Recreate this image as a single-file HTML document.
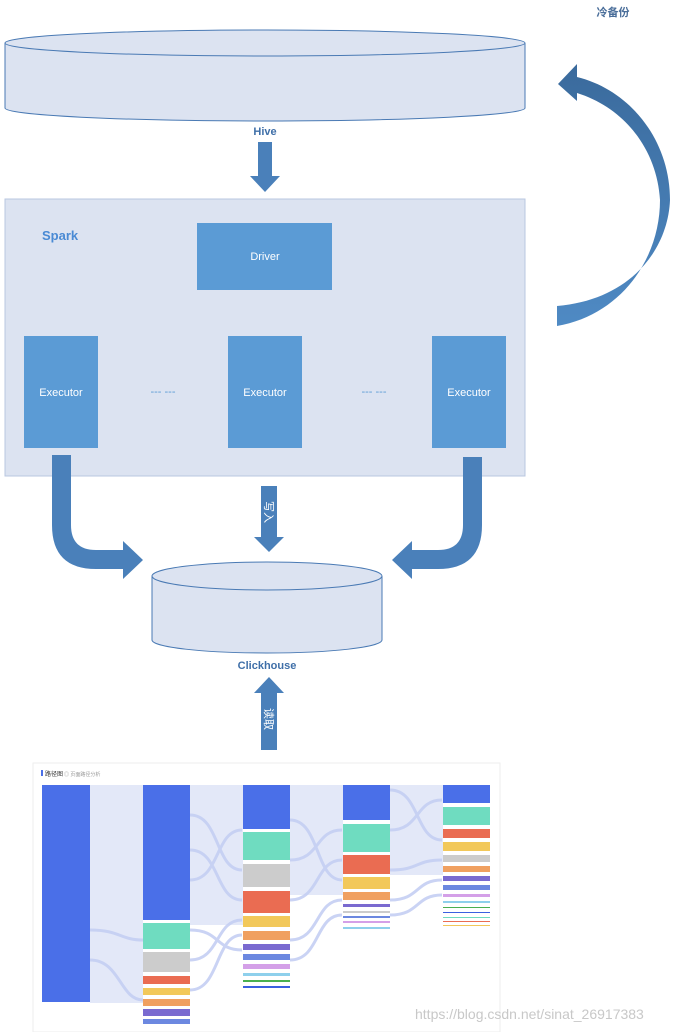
<!DOCTYPE html>
<html><head><meta charset="utf-8"><style>
html,body{margin:0;padding:0;background:#fff;width:681px;height:1032px;overflow:hidden}
svg{display:block}
text{font-family:"Liberation Sans","Noto Sans CJK SC",sans-serif}
</style></head><body>
<svg width="681" height="1032" viewBox="0 0 681 1032">
<defs>
<linearGradient id="ga" x1="0" y1="0" x2="0" y2="1"><stop offset="0" stop-color="#3a6a9c"/><stop offset="1" stop-color="#4f8ac4"/></linearGradient>
</defs>
<path d="M5,43 L5,108 A260,13 0 0 0 525,108 L525,43" fill="#dce3f1" stroke="#4a7ab4" stroke-width="1"/>
<ellipse cx="265" cy="43" rx="260" ry="13" fill="#dce3f1" stroke="#4a7ab4" stroke-width="1"/>
<text x="265" y="135" font-size="11" font-weight="bold" fill="#3f6fa8" text-anchor="middle">Hive</text>
<path d="M258,142 L272,142 L272,176 L280,176 L265,192 L250,176 L258,176 Z" fill="#4a80ba"/>
<rect x="5" y="199" width="520" height="277" fill="#dce3f1" stroke="#b9c7e0"/>
<text x="42" y="240" font-size="13" font-weight="bold" fill="#4a8ad4">Spark</text>
<rect x="197" y="223" width="135" height="67" fill="#5b9bd5"/>
<text x="265" y="260" font-size="11" fill="#fff" text-anchor="middle">Driver</text>
<rect x="24" y="336" width="74" height="112" fill="#5b9bd5"/>
<text x="61" y="396" font-size="11" fill="#fff" text-anchor="middle">Executor</text>
<rect x="228" y="336" width="74" height="112" fill="#5b9bd5"/>
<text x="265" y="396" font-size="11" fill="#fff" text-anchor="middle">Executor</text>
<rect x="432" y="336" width="74" height="112" fill="#5b9bd5"/>
<text x="469" y="396" font-size="11" fill="#fff" text-anchor="middle">Executor</text>
<text x="163" y="395" font-size="11" fill="#5b9bd5" text-anchor="middle">--- ---</text>
<text x="374" y="395" font-size="11" fill="#5b9bd5" text-anchor="middle">--- ---</text>
<path d="M52,455 L71,455 L71,525 Q71,550 96,550 L123,550 L123,541 L143,560 L123,579 L123,569 L96,569 Q52,569 52,525 Z" fill="#4a80ba"/>
<path d="M482,457 L463,457 L463,525 Q463,550 438,550 L412,550 L412,541 L392,560 L412,579 L412,569 L438,569 Q482,569 482,525 Z" fill="#4a80ba"/>
<path d="M261,486 L277,486 L277,537 L284,537 L269,552 L254,537 L261,537 Z" fill="#4a80ba"/>
<text x="0" y="0" font-size="11" fill="#fff" transform="translate(265,512) rotate(90)" text-anchor="middle">写入</text>
<path d="M152,576 L152,640 A115,13 0 0 0 382,640 L382,576" fill="#dce3f1" stroke="#4a7ab4"/>
<ellipse cx="267" cy="576" rx="115" ry="14" fill="#dce3f1" stroke="#4a7ab4"/>
<text x="267" y="669" font-size="11" font-weight="bold" fill="#3f6fa8" text-anchor="middle">Clickhouse</text>
<path d="M261,750 L277,750 L277,693 L284,693 L269,677 L254,693 L261,693 Z" fill="#4a80ba"/>
<text x="0" y="0" font-size="11" fill="#fff" transform="translate(265,719) rotate(90)" text-anchor="middle">读取</text>
<!-- cold backup arc -->
<path d="M557,306 C630,300 668,250 670,200 C670,140 630,90 577,77 L577,64 L558,84 L577,101 L577,93 C625,108 657,150 660,200 C660,260 620,315 557,326 Z" fill="url(#ga)"/>
<text x="613" y="16" font-size="11" fill="#4a6e9a" text-anchor="middle" font-weight="bold">冷备份</text>
<!-- sankey -->
<rect x="33" y="763" width="467" height="269" fill="#fff" stroke="#eee"/>
<rect x="41" y="770" width="2" height="6" fill="#4a6fe8"/>
<text x="45" y="776" font-size="6" fill="#333">路径图</text>
<text x="64" y="776" font-size="5" fill="#999">◎ 页面路径分析</text>
<g fill="#e3e8f8">
<rect x="90" y="785" width="53" height="218"/>
<rect x="190" y="785" width="53" height="140"/>
<rect x="290" y="785" width="53" height="110"/>
<rect x="390" y="785" width="53" height="90"/>
</g>
<g fill="none" stroke="#c5cff3" stroke-width="3" opacity="0.9">
<path d="M190,815 C220,815 215,870 242,870"/><path d="M190,850 C220,850 215,900 242,900"/>
<path d="M190,880 C220,880 215,830 242,830"/><path d="M190,930 C220,930 215,950 242,950"/>
<path d="M190,960 C220,960 215,920 242,920"/><path d="M190,990 C220,990 215,935 242,935"/>
<path d="M290,820 C320,820 315,880 342,880"/><path d="M290,860 C320,860 315,830 342,830"/>
<path d="M290,900 C320,900 315,860 342,860"/><path d="M290,940 C320,940 315,900 342,900"/>
<path d="M290,960 C320,960 315,915 342,915"/>
<path d="M390,790 C420,790 415,840 442,840"/><path d="M390,830 C420,830 415,800 442,800"/>
<path d="M390,870 C420,870 415,860 442,860"/><path d="M390,900 C420,900 415,880 442,880"/>
<path d="M390,915 C420,915 415,895 442,895"/>
<path d="M90,930 C120,930 120,940 143,940"/><path d="M90,960 C120,960 120,1000 143,1000"/>
</g>
<rect x="42" y="785" width="48" height="217" fill="#4a6fe8"/>
<rect x="143" y="785" width="47" height="135" fill="#4a6fe8"/>
<rect x="143" y="923" width="47" height="26" fill="#6fdcc0"/>
<rect x="143" y="952" width="47" height="20" fill="#cccccc"/>
<rect x="143" y="976" width="47" height="8" fill="#ea6c52"/>
<rect x="143" y="988" width="47" height="7" fill="#f2c85a"/>
<rect x="143" y="999" width="47" height="7" fill="#f0a060"/>
<rect x="143" y="1009" width="47" height="7" fill="#7a6ad0"/>
<rect x="143" y="1019" width="47" height="5" fill="#6c88e0"/>
<rect x="243" y="785" width="47" height="44" fill="#4a6fe8"/>
<rect x="243" y="832" width="47" height="28" fill="#6fdcc0"/>
<rect x="243" y="864" width="47" height="23" fill="#cccccc"/>
<rect x="243" y="891" width="47" height="22" fill="#ea6c52"/>
<rect x="243" y="916" width="47" height="11" fill="#f2c85a"/>
<rect x="243" y="931" width="47" height="9" fill="#f0a060"/>
<rect x="243" y="944" width="47" height="6" fill="#7a6ad0"/>
<rect x="243" y="954" width="47" height="6" fill="#6c88e0"/>
<rect x="243" y="964" width="47" height="5" fill="#d4a0e8"/>
<rect x="243" y="973" width="47" height="3" fill="#8ed0ec"/>
<rect x="243" y="980" width="47" height="2" fill="#4ab050"/>
<rect x="243" y="986" width="47" height="2" fill="#3a60e0"/>
<rect x="343" y="785" width="47" height="35" fill="#4a6fe8"/>
<rect x="343" y="824" width="47" height="28" fill="#6fdcc0"/>
<rect x="343" y="855" width="47" height="19" fill="#ea6c52"/>
<rect x="343" y="877" width="47" height="12" fill="#f2c85a"/>
<rect x="343" y="892" width="47" height="8" fill="#f0a060"/>
<rect x="343" y="904" width="47" height="3" fill="#7a6ad0"/>
<rect x="343" y="911" width="47" height="2" fill="#ccc"/>
<rect x="343" y="916" width="47" height="2" fill="#6c88e0"/>
<rect x="343" y="921" width="47" height="2" fill="#d4a0e8"/>
<rect x="343" y="927" width="47" height="2" fill="#8ed0ec"/>
<rect x="443" y="785" width="47" height="18" fill="#4a6fe8"/>
<rect x="443" y="807" width="47" height="18" fill="#6fdcc0"/>
<rect x="443" y="829" width="47" height="9" fill="#ea6c52"/>
<rect x="443" y="842" width="47" height="9" fill="#f2c85a"/>
<rect x="443" y="855" width="47" height="7" fill="#cccccc"/>
<rect x="443" y="866" width="47" height="6" fill="#f0a060"/>
<rect x="443" y="876" width="47" height="5" fill="#7a6ad0"/>
<rect x="443" y="885" width="47" height="5" fill="#6c88e0"/>
<rect x="443" y="894" width="47" height="3" fill="#d4a0e8"/>
<rect x="443" y="901" width="47" height="2" fill="#8ed0ec"/>
<rect x="443" y="907" width="47" height="1" fill="#4ab050"/>
<rect x="443" y="912" width="47" height="1" fill="#3a60e0"/>
<rect x="443" y="917" width="47" height="1" fill="#6fdcc0"/>
<rect x="443" y="921" width="47" height="1" fill="#ea6c52"/>
<rect x="443" y="925" width="47" height="1" fill="#f2c85a"/>
<text x="415" y="1019" font-size="14" fill="#c8c8c8">https://blog.csdn.net/sinat_26917383</text>
</svg>
</body></html>
